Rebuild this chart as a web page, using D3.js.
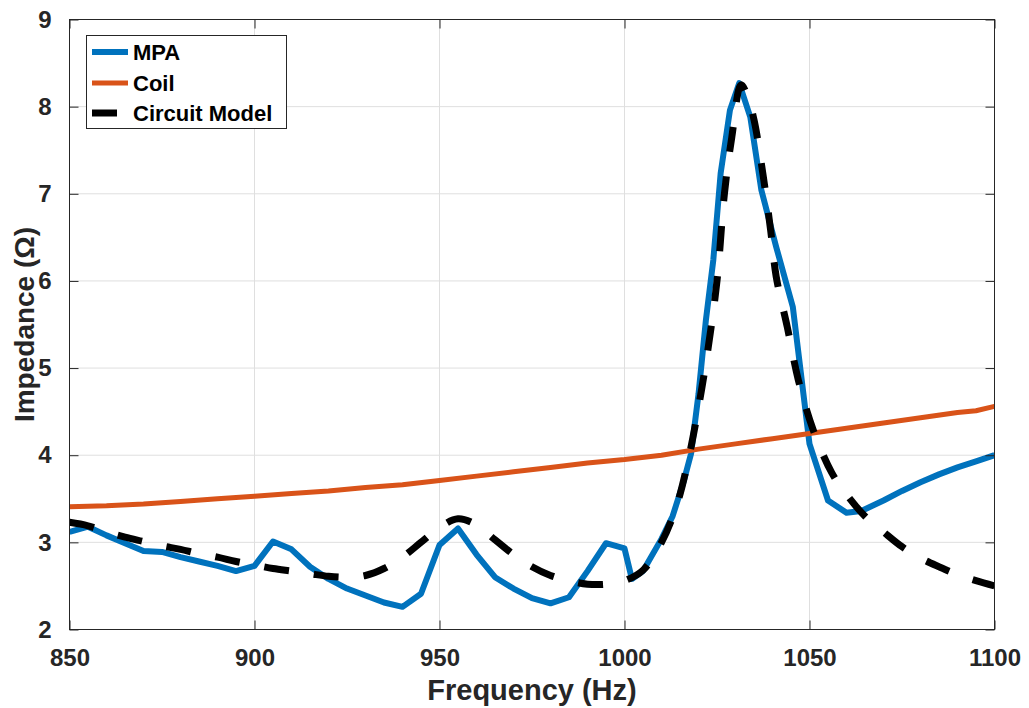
<!DOCTYPE html>
<html>
<head>
<meta charset="utf-8">
<script src="https://cdn.jsdelivr.net/npm/d3@7"></script>
<style>
  html, body { margin: 0; padding: 0; background: #fff; }
  svg { display: block; font-family: "Liberation Sans", Arial, Helvetica, sans-serif; }
</style>
</head>
<body>
<svg id="chart" width="1029" height="708"></svg>
<script>
// ---- Data ----
const mpaFreq = [850, 855, 860, 865, 870, 875, 880, 885, 890, 895, 900, 905, 910, 915, 920, 925, 930, 935, 940, 945,
  950, 955, 960, 965, 970, 975, 980, 985, 990, 995, 1000, 1002, 1005, 1010, 1013, 1016, 1018, 1020, 1022, 1024,
  1026, 1028.5, 1031, 1034, 1037, 1041, 1045.5, 1050, 1055, 1060, 1064, 1070, 1075, 1080, 1085, 1090, 1095, 1100];
const mpaVals = [3.12, 3.18, 3.08, 2.99, 2.90, 2.89, 2.83, 2.78, 2.73, 2.67, 2.73, 3.01, 2.92, 2.72, 2.58, 2.47, 2.39, 2.31, 2.26, 2.41,
  2.97, 3.16, 2.86, 2.60, 2.47, 2.36, 2.30, 2.37, 2.67, 2.99, 2.93, 2.58, 2.67, 3.04, 3.30, 3.70, 4.02, 4.70, 5.55, 6.24,
  7.24, 7.96, 8.27, 7.88, 7.04, 6.39, 5.70, 4.13, 3.48, 3.34, 3.36, 3.48, 3.59, 3.69, 3.78, 3.86, 3.93, 4.00];

const coilFreq = [850, 860, 870, 880, 890, 900, 910, 920, 930, 940, 950, 960, 970, 980, 990, 1000, 1010, 1020, 1030, 1040,
  1050, 1060, 1070, 1080, 1090, 1095, 1100];
const coilVals = [3.41, 3.42, 3.44, 3.47, 3.50, 3.53, 3.56, 3.59, 3.63, 3.66, 3.71, 3.76, 3.81, 3.86, 3.91, 3.95, 4.00, 4.07, 4.13, 4.19,
  4.25, 4.31, 4.37, 4.43, 4.49, 4.51, 4.56];

const modelFreq = [850, 855, 860, 865, 870, 875, 880, 885, 890, 895, 900, 905, 910, 915, 920, 925, 930, 935, 940, 945,
  950, 955, 960, 965, 970, 975, 980, 985, 990, 995, 1000, 1005, 1010, 1014, 1017, 1020, 1022.5, 1025, 1027, 1029,
  1031.5, 1033, 1035, 1037.5, 1039.5, 1041, 1044, 1047, 1051, 1056, 1060, 1065, 1070, 1075, 1080, 1085, 1090, 1095, 1100];
const modelVals = [3.23, 3.19, 3.12, 3.06, 3.01, 2.96, 2.92, 2.87, 2.83, 2.78, 2.74, 2.70, 2.67, 2.64, 2.61, 2.60, 2.62, 2.70, 2.83, 3.00,
  3.17, 3.27, 3.20, 3.03, 2.86, 2.72, 2.62, 2.56, 2.52, 2.52, 2.56, 2.68, 3.00, 3.41, 3.90, 4.55, 5.20, 6.00, 7.00, 7.65,
  8.25, 8.15, 7.85, 7.20, 6.58, 6.05, 5.47, 4.86, 4.29, 3.80, 3.55, 3.30, 3.12, 2.95, 2.82, 2.72, 2.63, 2.56, 2.50];

const xTicks = [850, 900, 950, 1000, 1050, 1100];
const yTicks = [2, 3, 4, 5, 6, 7, 8, 9];
const seriesNames = ["MPA", "Coil", "Circuit Model"];
const xLabel = "Frequency (Hz)";
const yLabel = "Impedance (\u03A9)";

// ---- Layout ----
const svg = d3.select("#chart");
const L = 69.5, R = 994.5, T = 19.5, B = 629.5;
const x = d3.scaleLinear().domain([850, 1100]).range([L, R]);
const y = d3.scaleLinear().domain([2, 9]).range([B, T]);
const axisColor = "#262626";
const tickLen = 9;

// grid
const grid = svg.append("g");
grid.selectAll("line.gx").data(xTicks).enter().append("line")
  .attr("x1", d => x(d)).attr("x2", d => x(d)).attr("y1", T).attr("y2", B)
  .attr("stroke", "#dfdfdf").attr("stroke-width", 1);
grid.selectAll("line.gy").data(yTicks).enter().append("line")
  .attr("x1", L).attr("x2", R).attr("y1", d => y(d)).attr("y2", d => y(d))
  .attr("stroke", "#dfdfdf").attr("stroke-width", 1);

// series
const clip = svg.append("clipPath").attr("id", "clip").append("rect")
  .attr("x", L).attr("y", T).attr("width", R - L).attr("height", B - T);
const plot = svg.append("g").attr("clip-path", "url(#clip)");

const mpa = mpaFreq.map((f, i) => [f, mpaVals[i]]);
const coil = coilFreq.map((f, i) => [f, coilVals[i]]);
const model = modelFreq.map((f, i) => [f, modelVals[i]]);

const lineLin = d3.line().x(d => x(d[0])).y(d => y(d[1]));
const lineSmooth = d3.line().x(d => x(d[0])).y(d => y(d[1])).curve(d3.curveCatmullRom.alpha(0.5));

plot.append("path").datum(mpa).attr("d", lineLin)
  .attr("fill", "none").attr("stroke", "#0072BD").attr("stroke-width", 6).attr("stroke-linejoin", "round");
plot.append("path").datum(coil).attr("d", lineLin)
  .attr("fill", "none").attr("stroke", "#D95319").attr("stroke-width", 5).attr("stroke-linejoin", "round");
plot.append("path").datum(model).attr("d", lineSmooth)
  .attr("fill", "none").attr("stroke", "#000").attr("stroke-width", 7)
  .attr("stroke-dasharray", "25,25");

// axes box
svg.append("rect").attr("x", L).attr("y", T).attr("width", R - L).attr("height", B - T)
  .attr("fill", "none").attr("stroke", axisColor).attr("stroke-width", 1);

// axes with d3 (ticks inward)
const xAxisB = d3.axisBottom(x).tickValues(xTicks).tickSize(-tickLen).tickPadding(tickLen + 10).tickFormat(d3.format("d"));
const xAxisT = d3.axisTop(x).tickValues(xTicks).tickSize(-tickLen).tickFormat("");
const yAxisL = d3.axisLeft(y).tickValues(yTicks).tickSize(-tickLen).tickPadding(tickLen + 9).tickFormat(d3.format("d"));
const yAxisR = d3.axisRight(y).tickValues(yTicks).tickSize(-tickLen).tickFormat("");

function styleAxis(g) {
  g.select(".domain").remove();
  g.selectAll(".tick line").attr("stroke", axisColor).attr("stroke-width", 1);
  g.selectAll(".tick text").attr("fill", axisColor)
    .style("font-size", "24px").style("font-weight", "bold")
    .style("font-family", "'Liberation Sans', Arial, sans-serif");
}
svg.append("g").attr("transform", `translate(0,${B})`).call(xAxisB).call(styleAxis);
svg.append("g").attr("transform", `translate(0,${T})`).call(xAxisT).call(styleAxis);
svg.append("g").attr("transform", `translate(${L},0)`).call(yAxisL).call(styleAxis);
svg.append("g").attr("transform", `translate(${R},0)`).call(yAxisR).call(styleAxis);

// axis labels
svg.append("text").attr("x", (L + R) / 2).attr("y", 700).attr("text-anchor", "middle")
  .attr("fill", axisColor).style("font-size", "29px").style("font-weight", "bold").text(xLabel);
svg.append("text").attr("transform", `translate(34,${(T + B) / 2}) rotate(-90)`).attr("text-anchor", "middle")
  .attr("fill", axisColor).style("font-size", "28px").style("font-weight", "bold").text(yLabel);

// legend
const lg = svg.append("g");
lg.append("rect").attr("x", 86.5).attr("y", 35.5).attr("width", 200).attr("height", 93)
  .attr("fill", "#fff").attr("stroke", axisColor).attr("stroke-width", 1);
const legendStyles = [
  { color: "#0072BD", width: 6, dash: null },
  { color: "#D95319", width: 5, dash: null },
  { color: "#000", width: 7, dash: "25,25" }
];
const legendY = [52, 83, 113];
seriesNames.forEach((name, i) => {
  const s = legendStyles[i];
  const ln = lg.append("line").attr("x1", 92).attr("x2", 128).attr("y1", legendY[i]).attr("y2", legendY[i])
    .attr("stroke", s.color).attr("stroke-width", s.width);
  if (s.dash) ln.attr("stroke-dasharray", s.dash);
  lg.append("text").attr("x", 133).attr("y", legendY[i]).attr("dy", "0.36em")
    .attr("fill", "#000").style("font-size", "22px").style("font-weight", "bold").text(name);
});
</script>
</body>
</html>
